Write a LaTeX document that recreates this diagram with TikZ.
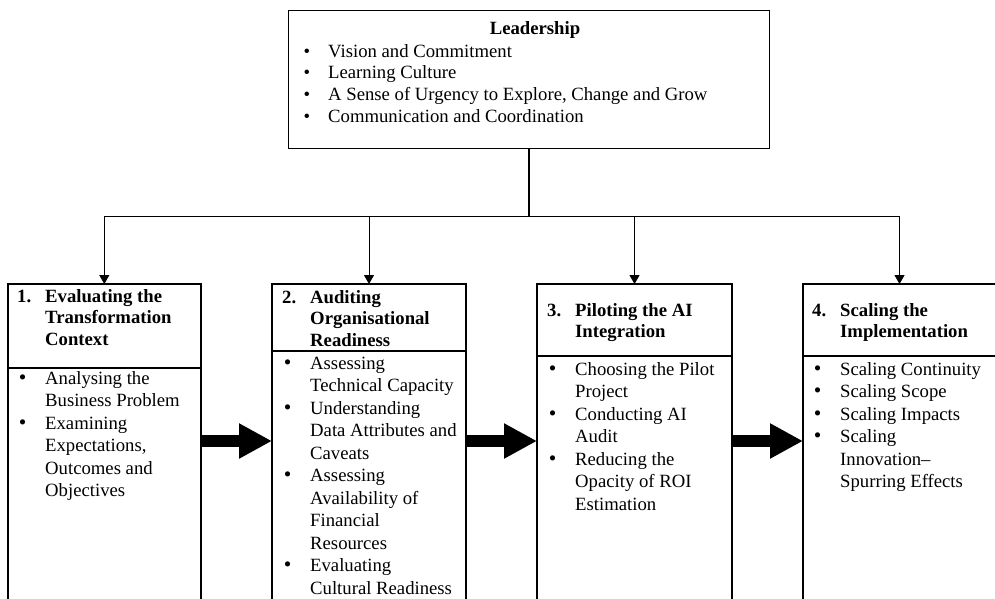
\documentclass[tikz,border=0pt]{standalone}
\usepackage{fontspec}
\usepackage{graphicx}
\setmainfont{Liberation Serif}
\usetikzlibrary{arrows.meta}
\newcommand{\bul}{\leavevmode\llap{\makebox[7pt][c]{\scalebox{1.15}{\textbullet}}\hspace{19pt}}}
\newcommand{\tbul}{\leavevmode\llap{\textbullet\hspace{18pt}}}
\newcommand{\hnum}[1]{\leavevmode\llap{\makebox[28pt][l]{#1}}}
\tikzset{
  bodytxt/.style={anchor=base west, inner sep=0pt, font=\fontsize{18.7}{22.5}\selectfont},
  toptxt/.style={anchor=base west, inner sep=0pt, font=\fontsize{18.7}{21.8}\selectfont},
  headtxt/.style={anchor=base west, inner sep=0pt, font=\fontsize{18.7}{21.5}\selectfont\bfseries},
  colbox/.style={draw, line width=2pt, rectangle, inner sep=0pt, outer sep=0pt, anchor=north, minimum height=360pt},
  topbox/.style={draw, line width=1pt, rectangle, inner sep=0pt, outer sep=0pt},
  divider/.style={line width=1.8pt},
  thin/.style={line width=1pt},
  drop/.style={line width=1pt, -{Triangle[length=9pt, width=10pt]}},
  fat/.style={line width=12pt, -{Triangle[length=33pt, width=33pt]}},
}
\begin{document}
\begin{tikzpicture}[x=1pt, y=-1pt]
\useasboundingbox (0,0) rectangle (995,598);
\clip (0,0) rectangle (995,598);

% top box
\node[topbox, minimum width=481pt, minimum height=138pt] (lead) at (528.5,79) {};
\node[anchor=base, inner sep=0pt, font=\fontsize{18.7}{21.8}\selectfont\bfseries] (leadt) at (535,34) {Leadership};
\node[toptxt] (leadl) at (328,57) {\parbox[t]{420pt}{\raggedright
\tbul Vision and Commitment\\
\tbul Learning Culture\\
\tbul A Sense of Urgency to Explore, Change and Grow\\
\tbul Communication and Coordination}};

% column boxes
\node[colbox, minimum width=193.5pt] (c1) at (104.3,284) {};
\node[colbox, minimum width=194pt] (c2) at (369,284) {};
\node[colbox, minimum width=195pt] (c3) at (634.5,284) {};
\node[colbox, minimum width=193pt] (c4) at (899.5,284) {};

% dividers
\draw[divider] (c1.west |- 0,368) -- (c1.east |- 0,368);
\draw[divider] (c2.west |- 0,351) -- (c2.east |- 0,351);
\draw[divider] (c3.west |- 0,356) -- (c3.east |- 0,356);
\draw[divider] (c4.west |- 0,356) -- (c4.east |- 0,356);

% connectors
\coordinate (hub) at (lead.south |- 0,216);
\coordinate (j1) at (c1.north |- 0,216);
\coordinate (j4) at (c4.north |- 0,216);
\draw[line width=2pt] (lead.south) -- (hub);
\draw[thin] (j1) -- (j4);
\draw[drop] (j1) -- (c1.north);
\draw[drop] (c2.north |- hub) -- (c2.north);
\draw[drop] (c3.north |- hub) -- (c3.north);
\draw[drop] (j4) -- (c4.north);

% fat arrows
\draw[fat] (c1.east |- 0,441) -- (c2.west |- 0,441);
\draw[fat] (c2.east |- 0,441) -- (c3.west |- 0,441);
\draw[fat] (c3.east |- 0,441) -- (c4.west |- 0,441);

% headers
\node[headtxt] (h1) at (45,302) {\parbox[t]{160pt}{\raggedright
\hnum{1.}Evaluating the\\ Transformation\\ Context}};
\node[headtxt] (h2) at (310,303) {\parbox[t]{160pt}{\raggedright
\hnum{2.}Auditing\\ Organisational\\ Readiness}};
\node[headtxt] (h3) at (575,316) {\parbox[t]{160pt}{\raggedright
\hnum{3.}Piloting the AI\\ Integration}};
\node[headtxt] (h4) at (840,316) {\parbox[t]{160pt}{\raggedright
\hnum{4.}Scaling the\\ Implementation}};

% bodies
\node[bodytxt] (b1) at (45,384) {\parbox[t]{160pt}{\raggedright
\bul Analysing the\\ Business Problem\\
\bul Examining\\ Expectations,\\ Outcomes and\\ Objectives}};
\node[bodytxt] (b2) at (310,369) {\parbox[t]{160pt}{\raggedright
\bul Assessing\\ Technical Capacity\\
\bul Understanding\\ Data Attributes and\\ Caveats\\
\bul Assessing\\ Availability of\\ Financial\\ Resources\\
\bul Evaluating\\ Cultural Readiness}};
\node[bodytxt] (b3) at (575,375) {\parbox[t]{160pt}{\raggedright
\bul Choosing the Pilot\\ Project\\
\bul Conducting AI\\ Audit\\
\bul Reducing the\\ Opacity of ROI\\ Estimation}};
\node[bodytxt] (b4) at (840,375) {\parbox[t]{160pt}{\raggedright
\bul Scaling Continuity\\
\bul Scaling Scope\\
\bul Scaling Impacts\\
\bul Scaling\\ Innovation–\\ Spurring Effects}};
\end{tikzpicture}
\end{document}
